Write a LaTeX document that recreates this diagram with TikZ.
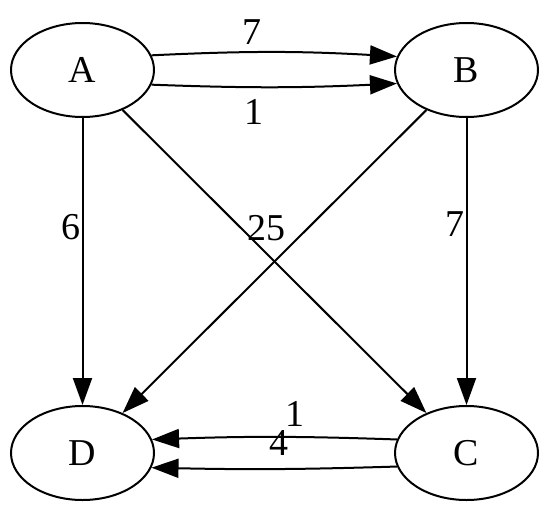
\documentclass[tikz,border=0pt]{standalone}
\usepackage{fontspec}
\setmainfont{Liberation Serif}
\usetikzlibrary{arrows.meta, positioning, shapes.geometric}

\begin{document}
\begin{tikzpicture}[>={Triangle[length=0.54cm, width=0.38cm]}, line width=0.04cm,
    vertex/.style={ellipse, draw, minimum width=2.86cm, minimum height=1.88cm,
        inner sep=0pt, font=\fontsize{21.6}{26}\selectfont},
    weight/.style={inner sep=0pt, font=\fontsize{21.6}{26}\selectfont}]
    \useasboundingbox (0,0) rectangle (10.98,10.24);

    % Các đỉnh
    \node[vertex] (A) at (1.65, 8.84) {A};
    \node[vertex] (B) at (9.33, 8.84) {B};
    \node[vertex] (D) at (1.65, 1.18) {D};
    \node[vertex] (C) at (9.33, 1.18) {C};

    % Cạnh A -> B
    \draw[->] (A.12) to[bend left=3] node[weight, pos=0.4, above=0.14cm] {7} (B.169);
    \draw[->] (A.-12) to[bend right=2.4] node[weight, pos=0.41, below=0.22cm] {1} (B.-169);

    % Cạnh dọc
    \draw[->] (A) -- (D) node[weight, pos=0.38, left=0.02cm] {6};
    \draw[->] (B) -- (C) node[weight, pos=0.37, left=0.02cm] {7};

    % Cạnh chéo
    \draw[->] (A) -- (C) node[weight, pos=0.39, right=0.1cm] {25};
    \draw[->] (B) -- (D);

    % Cạnh C -> D
    \draw[->] (C.169) to[bend right=2] node[weight, pos=0.41, above=0.2cm] {1} (D.11);
    \draw[->] (C.191) to[bend left=1.5] node[weight, pos=0.48, above=0.24cm] {4} (D.-12);
\end{tikzpicture}
\end{document}
